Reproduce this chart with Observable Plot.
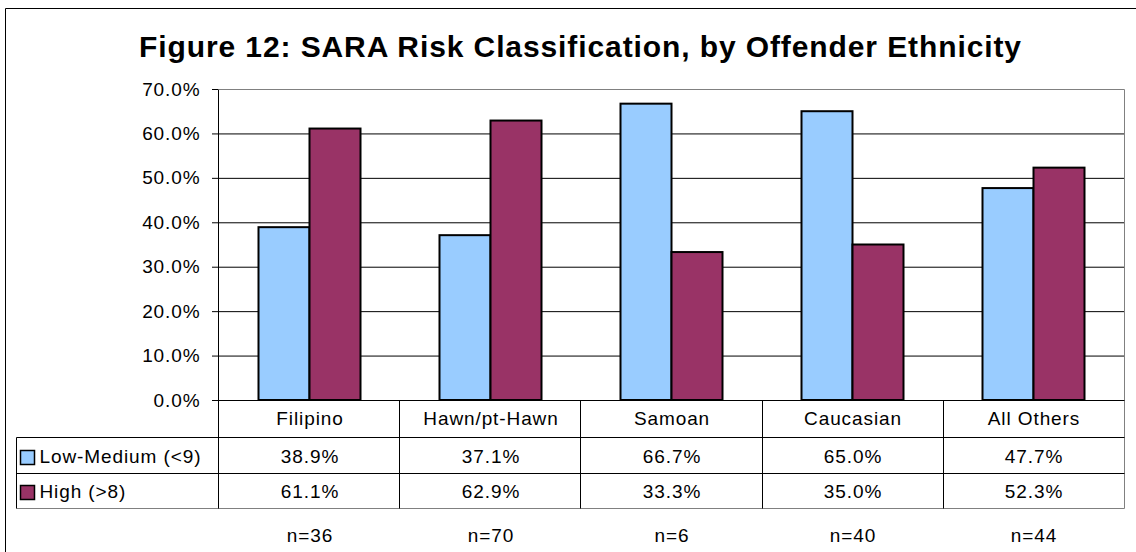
<!DOCTYPE html>
<html>
<head>
<meta charset="utf-8">
<script src="https://cdn.jsdelivr.net/npm/d3@7"></script>
<script src="https://cdn.jsdelivr.net/npm/@observablehq/plot@0.6"></script>
<style>
  body { margin: 0; background: #fff; }
  svg { display: block; }
  g[aria-label="title"] text { letter-spacing: 1.7px; }
</style>
</head>
<body>
<div id="chart"></div>
<script>
// ---- data ----
const title = "Figure 12: SARA Risk Classification, by Offender Ethnicity";
const categories = ["Filipino", "Hawn/pt-Hawn", "Samoan", "Caucasian", "All Others"];
const lowMedium = [0.389, 0.371, 0.667, 0.650, 0.477];
const high = [0.611, 0.629, 0.333, 0.350, 0.523];
const counts = ["n=36", "n=70", "n=6", "n=40", "n=44"];
const seriesNames = ["Low-Medium (<9)", "High (>8)"];
const seriesColors = ["#99CCFF", "#993366"];
const yTicks = [0, 0.1, 0.2, 0.3, 0.4, 0.5, 0.6, 0.7];

const rows = categories.map((cat, i) => ({cat, low: lowMedium[i], high: high[i], n: counts[i]}));
const pct = d3.format(".1%");

// ---- layout ----
const W = 1136, H = 552;
const mL = 218, mR = 12, mT = 89, mB = 152;
const step = (W - mL - mR) / categories.length;
const barW = 51;
const padIn = 1 - barW / step;
const rowEdges = [37, 73, 108]; // table row bottoms below the plot
const textRows = [18, 56, 91, 135]; // header, low, high, n

function chartLines(index, scales, values, dims) {
  const {width, height, marginLeft, marginRight, marginTop, marginBottom} = dims;
  const L = marginLeft + 0.5, R = width - marginRight + 0.5, T = marginTop + 0.5, B = height - marginBottom + 0.5;
  const g = d3.create("svg:g").attr("fill", "none").attr("stroke-width", 1);
  const line = (d, c) => g.append("path").attr("d", d).attr("stroke", c);
  // outer chart border (top & left)
  line(`M5.5,${height}V8.5H${width}`, "#000");
  // plot area border
  line(`M${L},${T}H${R}`, "#808080");
  line(`M${R},${T}V${B + rowEdges[2]}`, "#808080");
  // table
  line(`M16.5,${B + rowEdges[0]}H${R}`, "#000");
  line(`M16.5,${B + rowEdges[1]}H${R}`, "#000");
  line(`M16.5,${B + rowEdges[2]}H${R}`, "#808080");
  line(`M16.5,${B + rowEdges[0]}V${B + rowEdges[2]}`, "#000");
  for (let i = 1; i < categories.length; i++) {
    const xx = Math.round(marginLeft + i * step) + 0.5;
    line(`M${xx},${B}V${B + rowEdges[2]}`, "#000");
  }
  // axes
  line(`M${L},${T}V${B + rowEdges[2]}`, "#000");
  line(`M${L},${B}H${R}`, "#000");
  return g.node();
}

const rowText = (key, dy) => Plot.text(rows, {
  x: "cat", text: key, frameAnchor: "bottom", lineAnchor: "middle", textAnchor: "middle", dy
});

const chart = Plot.plot({
  width: W, height: H,
  marginLeft: mL, marginRight: mR, marginTop: mT, marginBottom: mB,
  style: {fontFamily: "'Liberation Sans', Arial, sans-serif", fontSize: "19px", letterSpacing: "0.9px", background: "#fff", color: "#000", overflow: "visible"},
  x: {type: "band", domain: categories, paddingInner: padIn, paddingOuter: padIn / 2, axis: null},
  y: {domain: [0, 0.7], axis: null},
  marks: [
    Plot.ruleY(yTicks.filter(t => t > 0 && t < 0.7), {stroke: "#000", strokeWidth: 1}),
    Plot.barY(rows, {x: "cat", y: "low", fill: seriesColors[0], stroke: "#000", strokeWidth: 2, dx: -barW / 2}),
    Plot.barY(rows, {x: "cat", y: "high", fill: seriesColors[1], stroke: "#000", strokeWidth: 2, dx: barW / 2}),
    chartLines,
    Plot.axisY({ticks: yTicks, tickFormat: pct, tickSize: 6, tickPadding: 12, label: null, fontSize: 19}),
    Plot.text([title], {text: d => d, frameAnchor: "top-left", textAnchor: "middle", lineAnchor: "middle", dx: 580 - mL, dy: -42, fontSize: 30, fontWeight: "bold", ariaLabel: "title"}),
    rowText("cat", textRows[0]),
    rowText(d => pct(d.low), textRows[1]),
    rowText(d => pct(d.high), textRows[2]),
    rowText("n", textRows[3]),
    ...seriesNames.map((name, i) => Plot.dot([name], {
      frameAnchor: "bottom-left", dx: 27 - mL, dy: textRows[i + 1] + 1, symbol: "square", r: 7.9,
      fill: seriesColors[i], stroke: "#000", strokeWidth: 1.5
    })),
    ...seriesNames.map((name, i) => Plot.text([name], {
      text: d => d, frameAnchor: "bottom-left", textAnchor: "start", lineAnchor: "middle",
      dx: 39 - mL, dy: textRows[i + 1]
    }))
  ]
});
document.getElementById("chart").appendChild(chart);
</script>
</body>
</html>
